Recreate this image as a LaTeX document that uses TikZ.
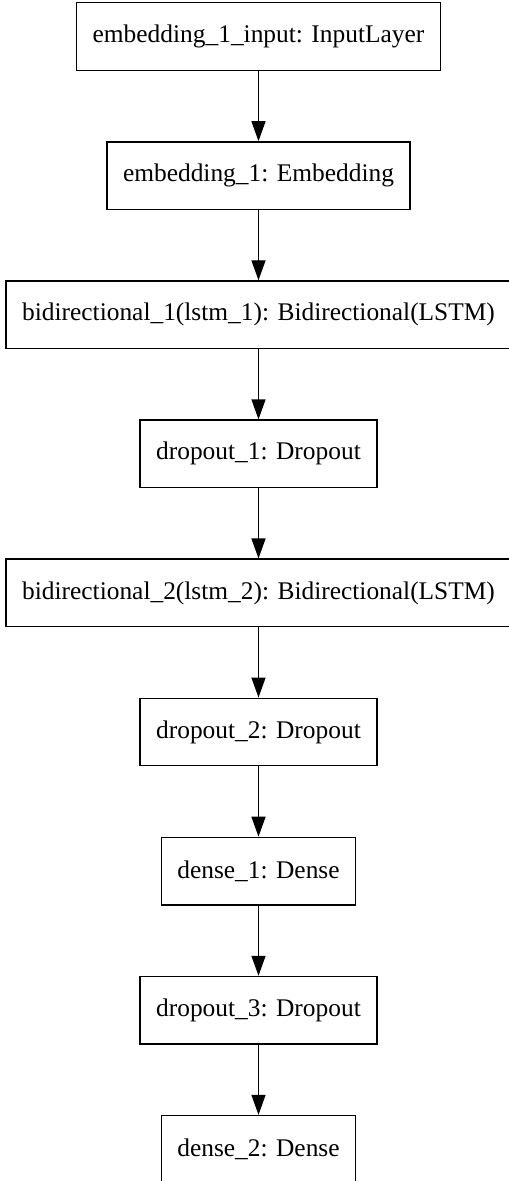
\documentclass[tikz,border=0pt]{standalone}
\usepackage{fontspec}
\setmainfont{Liberation Serif}
\usetikzlibrary{positioning, arrows.meta}

\tikzset{
  layer/.style={draw, rectangle, line width=1.4bp, minimum height=67.5bp,
    inner xsep=16bp, font=\fontsize{25.5}{30}\selectfont},
  flow/.style={-{Triangle[length=20bp, width=14bp]}, line width=1.4bp},
}

\begin{document}
\begin{tikzpicture}[x=1bp, y=1bp, node distance=70.2bp]
  % Frame
  \useasboundingbox (0,0) rectangle (509,-1181);

  % Layers
  \node[layer] (input) at (258.5,-36.5) {embedding\_1\_input: InputLayer};
  \node[layer, below=of input] (embed) {embedding\_1: Embedding};
  \node[layer, below=of embed] (bilstm1) {bidirectional\_1(lstm\_1): Bidirectional(LSTM)};
  \node[layer, below=of bilstm1] (drop1) {dropout\_1: Dropout};
  \node[layer, below=of drop1] (bilstm2) {bidirectional\_2(lstm\_2): Bidirectional(LSTM)};
  \node[layer, below=of bilstm2] (drop2) {dropout\_2: Dropout};
  \node[layer, below=of drop2] (dense1) {dense\_1: Dense};
  \node[layer, below=of dense1] (drop3) {dropout\_3: Dropout};
  \node[layer, below=of drop3] (dense2) {dense\_2: Dense};

  % Connections
  \draw[flow] (input) -- (embed);
  \draw[flow] (embed) -- (bilstm1);
  \draw[flow] (bilstm1) -- (drop1);
  \draw[flow] (drop1) -- (bilstm2);
  \draw[flow] (bilstm2) -- (drop2);
  \draw[flow] (drop2) -- (dense1);
  \draw[flow] (dense1) -- (drop3);
  \draw[flow] (drop3) -- (dense2);
\end{tikzpicture}
\end{document}
